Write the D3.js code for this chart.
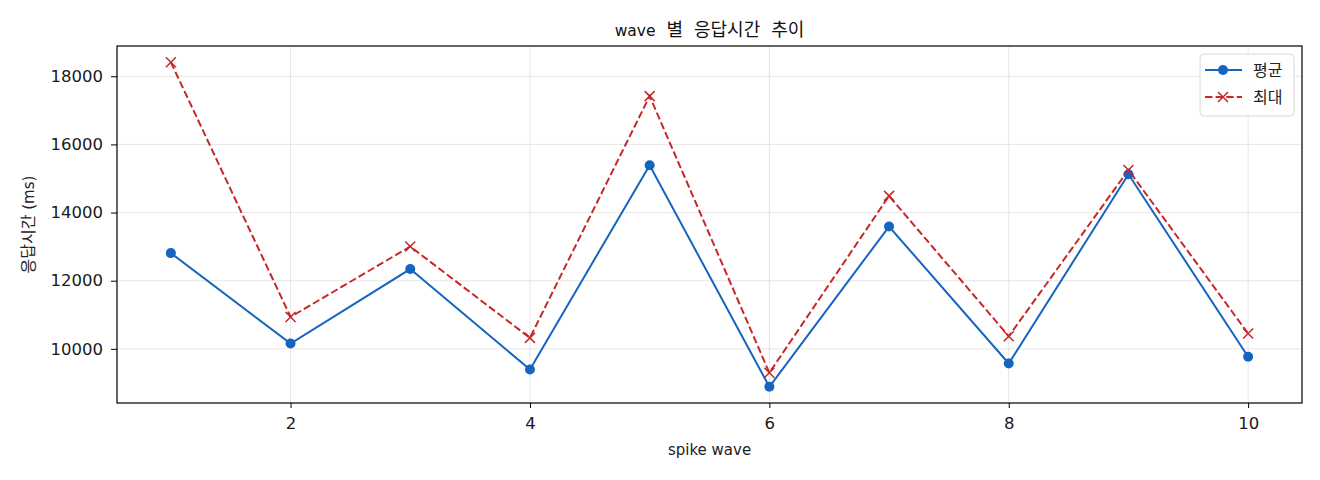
<!DOCTYPE html>
<html><head><meta charset="utf-8">
<script src="https://cdn.jsdelivr.net/npm/d3@7"></script>
<style>
html,body{margin:0;padding:0;background:#fff;}
svg{display:block;font-family:"DejaVu Sans","Noto Sans CJK KR",sans-serif;}
</style></head>
<body><svg id="c" width="1320" height="480"></svg>
<script>
const waves = [1,2,3,4,5,6,7,8,9,10];
const meanValues = [12810,10155,12342,9394,15388,8887,13590,9570,15124,9766];
const maxValues  = [18412,10937,13004,10322,17417,9297,14489,10369,15250,10448];
const xTicks = [2,4,6,8,10];
const yTicks = [10000,12000,14000,16000,18000];
const seriesNames = ["평균","최대"];
const titleText = "wave 별 응답시간 추이";
const xLabelText = "spike wave";
const yLabelText = "응답시간 (ms)";

const svg = d3.select("#c");
const L = 117, R = 1302, T = 46, B = 403;
const blue = "#1565C0", red = "#C62828";

// mixed-script text helper: Hangul runs in CJK font at size kSize, others in DejaVu at lSize
function mixedText(sel, str, lSize, kSize) {
  const runs = [];
  for (const ch of str) {
    const k = /[\uAC00-\uD7A3\u3130-\u318F]/.test(ch);
    if (runs.length && runs[runs.length-1].k === k) runs[runs.length-1].t += ch;
    else runs.push({k, t: ch});
  }
  runs.forEach(r => sel.append("tspan")
    .style("font-family", r.k ? "'Noto Sans CJK KR'" : "'DejaVu Sans'")
    .style("font-size", (r.k ? kSize : lSize) + "px").text(r.t));
  return sel;
}

const allV = meanValues.concat(maxValues);
const ymin = d3.min(allV), ymax = d3.max(allV), yr = ymax - ymin;
const x = d3.scaleLinear().domain([1 - 9*0.05, 10 + 9*0.05]).range([L, R]);
const y = d3.scaleLinear().domain([ymin - yr*0.05, ymax + yr*0.05]).range([B, T]);

// grid
const g = svg.append("g");
g.selectAll(".gx").data(xTicks).enter().append("line")
  .attr("x1", d=>x(d)).attr("x2", d=>x(d)).attr("y1", T).attr("y2", B)
  .attr("stroke", "#b0b0b0").attr("stroke-opacity", 0.3).attr("stroke-width", 1);
g.selectAll(".gy").data(yTicks).enter().append("line")
  .attr("x1", L).attr("x2", R).attr("y1", d=>y(d)).attr("y2", d=>y(d))
  .attr("stroke", "#b0b0b0").attr("stroke-opacity", 0.3).attr("stroke-width", 1);

// axes
const xAxis = d3.axisBottom(x).tickValues(xTicks).tickSize(5).tickPadding(9).tickFormat(d3.format("d"));
const yAxis = d3.axisLeft(y).tickValues(yTicks).tickSize(6).tickPadding(8).tickFormat(d3.format("d"));
const ax = svg.append("g").attr("transform", `translate(0,${B})`).call(xAxis);
const ay = svg.append("g").attr("transform", `translate(${L},0)`).call(yAxis);
[ax, ay].forEach(a => {
  a.select(".domain").remove();
  a.selectAll(".tick line").attr("stroke", "#000").attr("stroke-width", 1);
  a.selectAll(".tick text").attr("fill", "#1a1a1a").style("font-size", "16.5px")
   .style("font-family", "'DejaVu Sans', sans-serif");
});

// data lines
const line = d3.line().x((d,i)=>x(waves[i])).y(d=>y(d));
const plot = svg.append("g");
plot.append("path").datum(maxValues).attr("d", line).attr("fill","none")
  .attr("stroke", red).attr("stroke-width", 2).attr("stroke-dasharray","7.4,3.2");
plot.append("path").datum(meanValues).attr("d", line).attr("fill","none")
  .attr("stroke", blue).attr("stroke-width", 2);
plot.selectAll(".m").data(meanValues).enter().append("circle")
  .attr("cx",(d,i)=>x(waves[i])).attr("cy", d=>y(d)).attr("r", 5).attr("fill", blue);
const xs = 5;
plot.selectAll(".xm").data(maxValues).enter().append("path")
  .attr("d",(d,i)=>{const cx=x(waves[i]), cy=y(d); return `M${cx-xs},${cy-xs}L${cx+xs},${cy+xs}M${cx-xs},${cy+xs}L${cx+xs},${cy-xs}`;})
  .attr("stroke", red).attr("stroke-width", 1.5).attr("fill","none");

// frame
svg.append("rect").attr("x", L).attr("y", T).attr("width", R-L).attr("height", B-T)
  .attr("fill","none").attr("stroke","#000").attr("stroke-width",1.2);

// titles
mixedText(svg.append("text").attr("x", (L+R)/2).attr("y", 36).attr("text-anchor","middle")
  .style("word-spacing","6px").attr("fill","#111"), titleText, 15.5, 18);
svg.append("text").attr("x", (L+R)/2).attr("y", 455).attr("text-anchor","middle")
  .style("font-size","15px").style("font-family","'DejaVu Sans'").attr("fill","#222").text(xLabelText);
mixedText(svg.append("text").attr("transform", `translate(34,${(T+B)/2}) rotate(-90)`).attr("text-anchor","middle")
  .attr("fill","#222"), yLabelText, 15, 16);

// legend
const lg = svg.append("g");
lg.append("rect").attr("x", 1200).attr("y", 54).attr("width", 94).attr("height", 62).attr("rx", 4)
  .attr("fill","#fff").attr("fill-opacity",0.8).attr("stroke","#d8d8d8").attr("stroke-width",1);
const rows = [{name: seriesNames[0], color: blue, dash: null, mk: "o", yy: 70},
              {name: seriesNames[1], color: red, dash: "7.4,3.2", mk: "x", yy: 97}];
rows.forEach(r => {
  lg.append("line").attr("x1",1205).attr("x2",1242).attr("y1",r.yy).attr("y2",r.yy)
    .attr("stroke", r.color).attr("stroke-width",2).attr("stroke-dasharray", r.dash);
  if (r.mk === "o") lg.append("circle").attr("cx",1223).attr("cy",r.yy).attr("r",5).attr("fill",r.color);
  else lg.append("path").attr("d",`M${1223-xs},${r.yy-xs}L${1223+xs},${r.yy+xs}M${1223-xs},${r.yy+xs}L${1223+xs},${r.yy-xs}`)
    .attr("stroke", r.color).attr("stroke-width",1.5);
  lg.append("text").attr("x",1253).attr("y", r.yy+6).style("font-size","16px")
    .style("font-family","'Noto Sans CJK KR'").attr("fill","#222").text(r.name);
});
</script></body></html>
